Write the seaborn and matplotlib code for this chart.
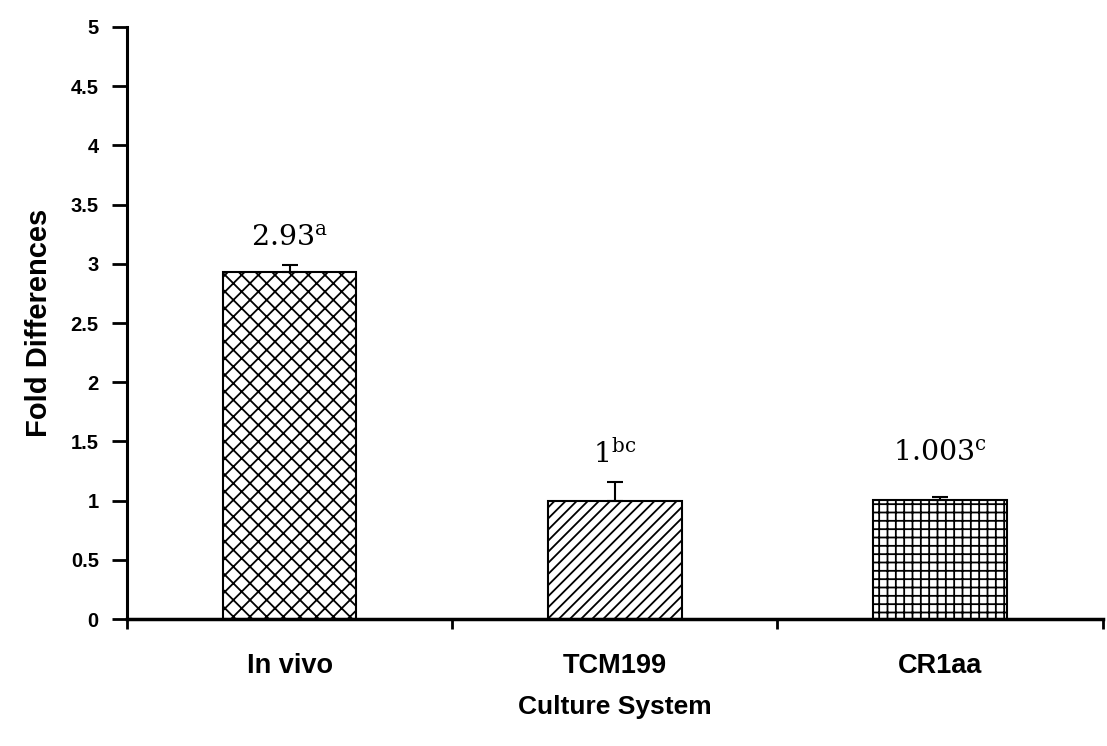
import numpy as np
import pandas as pd
import seaborn as sns
import matplotlib
matplotlib.use('Agg')
from matplotlib import pyplot as plt

sns.set_style('white')
plt.rcParams['font.family'] = ['Liberation Sans', 'DejaVu Sans']
plt.rcParams['mathtext.fontset'] = 'dejavuserif'
plt.rcParams['hatch.linewidth'] = 1.3
plt.rcParams['text.color'] = 'black'
plt.rcParams['axes.labelcolor'] = 'black'
plt.rcParams['xtick.color'] = 'black'
plt.rcParams['ytick.color'] = 'black'

# data
systems = ['In vivo', 'TCM199', 'CR1aa']
fold = [2.93, 1.0, 1.003]
err = [0.06, 0.16, 0.03]
labels = ['2.93', '1', '1.003']
letters = ['a', 'bc', 'c']

hatches = ['xx', '///', '++']
label_y = [3.22, 1.40, 1.40]

df = pd.DataFrame({'System': systems, 'Fold': fold})

fig, ax = plt.subplots(figsize=(11.07, 7.46), dpi=100)
fig.subplots_adjust(left=0.115, right=0.996, bottom=0.170, top=0.964)

sns.barplot(x='System', y='Fold', data=df, color='white', width=0.41,
            edgecolor='black', linewidth=1.5, errorbar=None, ax=ax)
for bar, h in zip(ax.patches, hatches):
    bar.set_hatch(h)

# only the upper half of each error bar
xs = np.arange(len(systems))
ax.errorbar(xs, fold, yerr=[np.zeros(len(err)), err], fmt='none',
            ecolor='black', elinewidth=1.5, capsize=5.5, capthick=1.5)

for x, y, t, s in zip(xs, label_y, labels, letters):
    ax.text(x, y, t + r'$^{\mathrm{' + s + '}}$', ha='center', va='center',
            fontsize=20.5, family='DejaVu Serif')

ax.set_ylim(0, 5)
ax.set_xlim(-0.5, 2.5)
ax.set_yticks(np.arange(0, 5.01, 0.5))
ax.set_yticklabels(['0', '0.5', '1', '1.5', '2', '2.5', '3', '3.5', '4', '4.5', '5'])
ax.set_xticks(xs)
ax.set_xticklabels(systems)
ax.set_xticks([-0.5, 0.5, 1.5, 2.5], minor=True)

ax.tick_params(axis='y', direction='out', length=10.5, width=2, pad=10,
               labelsize=14.5, left=True)
ax.tick_params(axis='x', which='major', length=0, pad=24, labelsize=19.5)
ax.tick_params(axis='x', which='minor', direction='out', length=7, width=2,
               bottom=True)
for lab in ax.get_xticklabels() + ax.get_yticklabels():
    lab.set_fontweight('bold')

ax.set_xlabel('Culture System', fontsize=19, fontweight='bold', labelpad=12)
ax.set_ylabel('Fold Differences', fontsize=21, fontweight='bold', labelpad=13)

sns.despine(ax=ax)
ax.spines['left'].set_linewidth(2.2)
ax.spines['bottom'].set_linewidth(2.5)
ax.spines['left'].set_color('black')
ax.spines['bottom'].set_color('black')

plt.savefig('out.png', dpi=100)
